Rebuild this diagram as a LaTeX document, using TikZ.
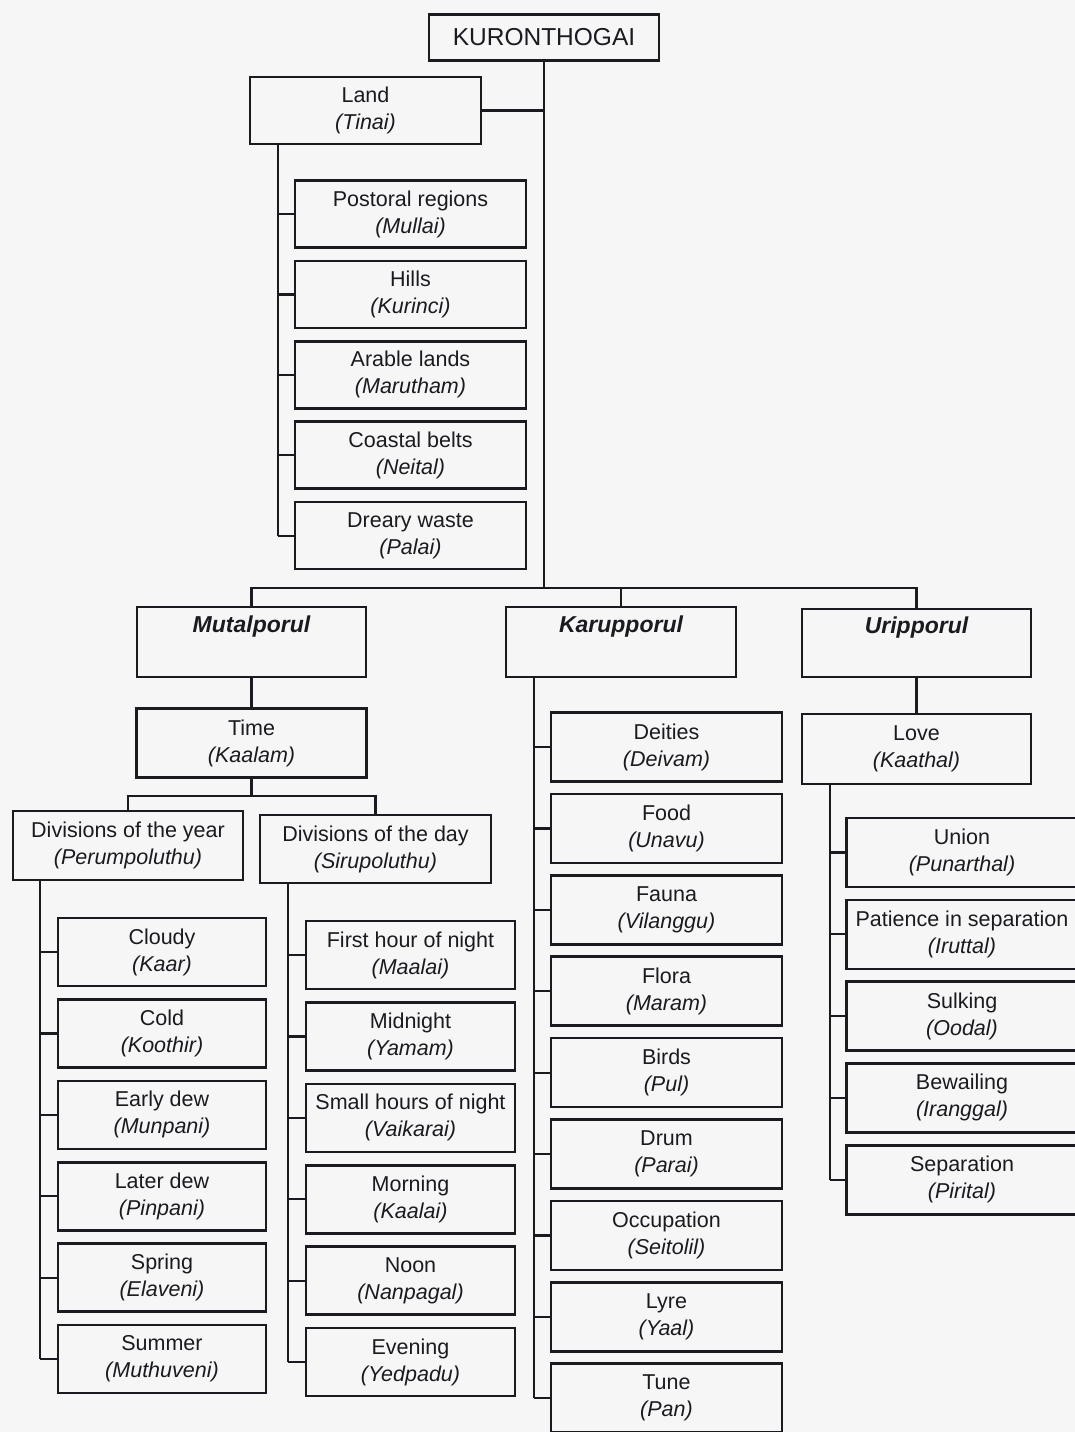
\documentclass[tikz,border=0pt]{standalone}
\usepackage{fontspec}
\setmainfont{Liberation Sans}
\definecolor{ink}{HTML}{1A1A20}
\definecolor{bgc}{HTML}{F6F6F6}
\begin{document}
\begin{tikzpicture}[x=1pt,y=-1pt,
  every node/.style={font=\fontsize{21.5}{27}\selectfont, text=ink},
  bx/.style 2 args={draw=ink, line width=2.6pt, inner sep=0pt, align=center,
    minimum width=#1pt, minimum height=#2pt},
  hd/.style={font=\fontsize{23}{27}\selectfont\bfseries\itshape},
  ln/.style={draw=ink, line width=2.2pt}]
\fill[bgc] (0,0) rectangle (1075,1432);
\useasboundingbox (0,0) rectangle (1075,1432);

\coordinate (lv) at (278,0);
\coordinate (yv) at (40,0);
\coordinate (dv) at (288,0);
\coordinate (kv) at (534,0);
\coordinate (uv) at (830,0);
\coordinate (bar) at (0,588);
\coordinate (bar2) at (0,796);

% root and land
\node[bx={230}{46}, font=\fontsize{24.5}{28}\selectfont] (root) at (544,37.5) {KURONTHOGAI};
\node[bx={231}{67}] (land) at (365.5,110.5) {Land\\\textit{(Tinai)}};
\foreach \n/\a/\b [count=\i from 0] in {pr/Postoral regions/Mullai, hi/Hills/Kurinci,
    ar/Arable lands/Marutham, co/Coastal belts/Neital, dr/Dreary waste/Palai}
  \node[bx={231}{67}] (\n) at (410.5,{214+80.4*\i}) {\a\\\textit{(\b)}};

% three porul
\node[bx={229}{70}, hd] (mut) at (251.5,642) {Mutalporul\\\strut};
\node[bx={230}{70}, hd] (kar) at (621,642) {Karupporul\\\strut};
\node[bx={229}{68}, hd] (uri) at (916.5,643) {Uripporul\\\strut};

% Mutalporul branch
\node[bx={230}{69}] (time) at (251.5,743) {Time\\\textit{(Kaalam)}};
\node[bx={230}{69}] (year) at (128,845.5) {Divisions of the year\\\textit{(Perumpoluthu)}};
\node[bx={231}{68}] (day) at (375.5,849) {Divisions of the day\\\textit{(Sirupoluthu)}};
\foreach \n/\a/\b [count=\i from 0] in {ya/Cloudy/Kaar, yb/Cold/Koothir, yc/Early dew/Munpani,
    yd/Later dew/Pinpani, ye/Spring/Elaveni, yf/Summer/Muthuveni}
  \node[bx={208}{68}] (\n) at (162,{952+81.4*\i}) {\a\\\textit{(\b)}};
\foreach \n/\a/\b [count=\i from 0] in {da/First hour of night/Maalai, db/Midnight/Yamam,
    dc/Small hours of night/Vaikarai, dd/Morning/Kaalai, de/Noon/Nanpagal, df/Evening/Yedpadu}
  \node[bx={209}{68}] (\n) at (410.5,{955+81.4*\i}) {\a\\\textit{(\b)}};

% Karupporul branch
\foreach \n/\a/\b [count=\i from 0] in {ka/Deities/Deivam, kb/Food/Unavu, kc/Fauna/Vilanggu,
    kd/Flora/Maram, ke/Birds/Pul, kf/Drum/Parai, kg/Occupation/Seitolil, kh/Lyre/Yaal, ki/Tune/Pan}
  \node[bx={231}{69}] (\n) at (666.5,{747+81.4*\i}) {\a\\\textit{(\b)}};

% Uripporul branch
\node[bx={229}{70}] (love) at (916.5,749) {Love\\\textit{(Kaathal)}};
\foreach \n/\a/\b [count=\i from 0] in {ua/Union/Punarthal, ub/Patience in separation/Iruttal,
    uc/Sulking/Oodal, ud/Bewailing/Iranggal, ue/Separation/Pirital}
  \node[bx={231}{69}] (\n) at (962,{852.5+81.8*\i}) {\a\\\textit{(\b)}};

% connectors
\draw[ln] (root.south) -- (root.south |- bar);
\draw[ln] (land.east) -- (land.east -| root.south);
\draw[ln] (land.south -| lv) -- (lv |- dr.west);
\foreach \n in {pr,hi,ar,co,dr} \draw[ln] (lv |- \n.west) -- (\n.west);

\draw[ln] (mut.north) -- (mut.north |- bar) -- (uri.north |- bar) -- (uri.north);
\draw[ln] (kar.north) -- (kar.north |- bar);

\draw[ln] (mut.south) -- (time.north);
\draw[ln] (time.south) -- (time.south |- bar2);
\draw[ln] (year.north) -- (year.north |- bar2) -- (day.north |- bar2) -- (day.north);
\draw[ln] (year.south -| yv) -- (yv |- yf.west);
\foreach \n in {ya,yb,yc,yd,ye,yf} \draw[ln] (yv |- \n.west) -- (\n.west);
\draw[ln] (day.south -| dv) -- (dv |- df.west);
\foreach \n in {da,db,dc,dd,de,df} \draw[ln] (dv |- \n.west) -- (\n.west);

\draw[ln] (kar.south -| kv) -- (kv |- ki.west);
\foreach \n in {ka,kb,kc,kd,ke,kf,kg,kh,ki} \draw[ln] (kv |- \n.west) -- (\n.west);

\draw[ln] (uri.south) -- (love.north);
\draw[ln] (love.south -| uv) -- (uv |- ue.west);
\foreach \n in {ua,ub,uc,ud,ue} \draw[ln] (uv |- \n.west) -- (\n.west);
\end{tikzpicture}
\end{document}
